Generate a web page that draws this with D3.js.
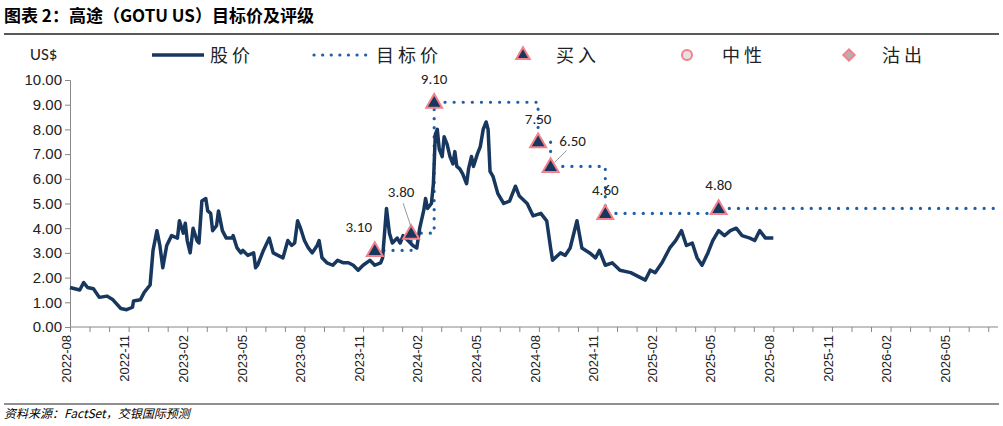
<!DOCTYPE html>
<html><head><meta charset="utf-8">
<script src="https://cdn.jsdelivr.net/npm/d3@7"></script>
<style>body{margin:0;background:#fff}svg{font-family:Calibri,"Liberation Sans","Noto Sans CJK SC",sans-serif}</style>
</head><body><div id="chart"></div>
<script>
// months since 2022-08-01
var priceMonths = [0,0.5,0.7,0.9,1.2,1.5,1.9,2.2,2.6,2.9,3.2,3.25,3.6,3.8,4.1,4.25,4.45,4.6,4.75,4.95,5.2,5.5,5.6,5.8,5.9,6.0,6.15,6.3,6.5,6.6,6.75,6.95,7.05,7.2,7.3,7.5,7.6,7.8,8.0,8.3,8.35,8.55,8.75,8.85,9.1,9.4,9.5,9.6,9.9,10.2,10.4,10.65,10.9,11.15,11.35,11.5,11.65,11.8,12.0,12.2,12.4,12.65,12.75,12.9,13.15,13.45,13.7,14.0,14.25,14.5,14.75,15.0,15.35,15.6,15.9,16.0,16.2,16.35,16.5,16.75,16.9,17.05,17.3,17.55,17.75,17.9,18.1,18.2,18.3,18.5,18.6,18.7,18.8,18.9,19.05,19.15,19.3,19.45,19.6,19.7,19.8,19.95,20.1,20.3,20.4,20.55,20.65,20.85,21.0,21.15,21.3,21.4,21.5,21.65,21.9,22.2,22.5,22.8,23.0,23.4,23.7,24.1,24.4,24.6,24.7,25.1,25.35,25.6,25.95,26.2,26.6,26.9,27.1,27.4,27.75,28.15,28.7,29.2,29.45,29.7,29.95,30.3,30.7,31.0,31.3,31.55,31.85,32.1,32.35,32.65,32.9,33.2,33.5,33.8,34.1,34.4,34.8,35.05,35.3,35.6,36.0];
var priceValues = [1.6,1.5,1.8,1.6,1.55,1.2,1.25,1.1,0.75,0.7,0.8,1.05,1.1,1.4,1.7,3.1,3.9,3.3,2.4,3.3,3.7,3.6,4.3,3.8,4.2,3.5,3.0,4.0,3.5,3.4,5.1,5.2,4.7,4.6,3.9,4.1,4.7,3.9,3.6,3.6,3.7,3.2,3.0,3.1,2.9,3.0,2.4,2.5,3.1,3.6,3.0,2.9,2.8,3.5,3.3,3.4,4.3,4.0,3.5,3.2,3.0,3.3,3.5,2.8,2.6,2.5,2.7,2.6,2.6,2.5,2.3,2.5,2.7,2.5,2.6,2.8,4.8,3.8,3.4,3.6,3.4,3.7,3.5,3.3,3.2,4.0,4.7,5.2,4.8,5.0,5.8,7.8,8.0,7.2,6.9,7.7,7.4,6.9,6.6,7.1,6.5,6.4,6.2,5.8,6.4,6.9,6.5,7.0,7.3,8.0,8.3,8.0,6.3,6.1,5.4,5.0,5.1,5.7,5.3,5.0,4.5,4.6,4.3,3.2,2.7,3.0,2.9,3.2,4.3,3.2,3.0,2.8,3.1,2.5,2.6,2.3,2.2,2.0,1.9,2.3,2.2,2.6,3.2,3.5,3.9,3.3,3.4,2.8,2.5,3.0,3.5,3.9,3.7,3.9,4.0,3.7,3.6,3.5,3.9,3.6,3.6];
var targetMonths = [15.6,17.46,18.64,23.96,24.6,27.4,33.2];
var targetValues = [3.1,3.8,9.1,7.5,6.5,4.6,4.8];
var targetEnd = 47.5;
var yTicks = [0,1,2,3,4,5,6,7,8,9,10];
var legendItems = ["股价","目标价","买入","中性","沽出"];

var W = 1003, H = 426, navy = "#17375e", blue = "#1f5fa8", pink = "#f4808a";
var svg = d3.select("#chart").append("svg").attr("width", W).attr("height", H);
var x = d3.scaleLinear().domain([0, 47.5]).range([70, 998]);
var y = d3.scaleLinear().domain([0, 10]).range([327, 80]);

svg.append("text").attr("x", 4).attr("y", 22).attr("font-size", 17).attr("font-weight", "bold")
  .attr("font-family", "Noto Sans CJK SC").text("图表 2：高途（GOTU US）目标价及评级");
svg.append("line").attr("x1", 4).attr("x2", 999).attr("y1", 34).attr("y2", 34).attr("stroke", "#222").attr("stroke-width", 1.5);
svg.append("line").attr("x1", 4).attr("x2", 999).attr("y1", 404).attr("y2", 404).attr("stroke", "#222").attr("stroke-width", 1.2);
svg.append("text").attr("x", 4).attr("y", 418).attr("font-size", 12).attr("font-style", "italic")
  .attr("font-family", "Noto Sans CJK SC").text("资料来源：FactSet，交银国际预测");

// y axis
var ya = svg.append("g").attr("transform", "translate(70,0)")
  .call(d3.axisLeft(y).tickValues(yTicks).tickFormat(d3.format(".2f")).tickSize(5));
ya.selectAll("text").attr("font-size", 15).attr("fill", "#222");
ya.selectAll("line,path").attr("stroke", "#888");
svg.append("text").attr("x", 30).attr("y", 60).attr("font-size", 17).attr("fill", "#222").text("US$");

// x axis
var months = d3.range(0, 48);
var xa = svg.append("g").attr("transform", "translate(0,327)")
  .call(d3.axisBottom(x).tickValues(months).tickSize(5).tickFormat(function (m) {
    return m % 3 === 0 ? d3.timeFormat("%Y-%m")(d3.timeMonth.offset(new Date(2022, 7, 1), m)) : "";
  }));
xa.selectAll("line,path").attr("stroke", "#888");
xa.select(".domain").attr("d", "M70,0H998");
xa.selectAll("text").attr("font-size", 13).attr("fill", "#222")
  .attr("transform", "rotate(-90)").attr("text-anchor", "end").attr("x", -8).attr("y", -4).attr("dy", "0.32em");

// target dotted step line
var tData = targetMonths.map(function (m, i) { return [m, targetValues[i]]; });
tData.push([targetEnd, targetValues[targetValues.length - 1]]);
svg.append("path").datum(tData)
  .attr("d", d3.line().x(function (d) { return x(d[0]); }).y(function (d) { return y(d[1]); }).curve(d3.curveStepAfter))
  .attr("fill", "none").attr("stroke", blue).attr("stroke-width", 3.2)
  .attr("stroke-dasharray", "0.1 9").attr("stroke-linecap", "round");

// price line
svg.append("path").datum(priceMonths.map(function (m, i) { return [m, priceValues[i]]; }))
  .attr("d", d3.line().x(function (d) { return x(d[0]); }).y(function (d) { return y(d[1]); }))
  .attr("fill", "none").attr("stroke", navy).attr("stroke-width", 3.5).attr("stroke-linejoin", "round");

var tri = d3.symbol().type(d3.symbolTriangle).size(110);
svg.selectAll(".mk").data(tData.slice(0, targetMonths.length)).enter().append("path")
  .attr("transform", function (d) { return "translate(" + x(d[0]) + "," + (y(d[1]) + 1) + ")"; })
  .attr("d", tri).attr("fill", navy).attr("stroke", pink).attr("stroke-width", 2);

// labels: dx, dy offsets
var labelOff = [[-16, -18], [-10, -36], [0, -18], [0, -18], [22, -20], [0, -18], [0, -18]];
svg.selectAll(".lb").data(tData.slice(0, targetMonths.length)).enter().append("text")
  .attr("x", function (d, i) { return x(d[0]) + labelOff[i][0]; })
  .attr("y", function (d, i) { return y(d[1]) + labelOff[i][1]; })
  .attr("text-anchor", "middle").attr("font-size", 15).attr("fill", "#222")
  .text(function (d) { return d[1].toFixed(2); });
[[1, -8, -30, 0, -6], [4, 16, -16, 4, -4]].forEach(function (l) {
  var d = tData[l[0]];
  svg.append("line").attr("x1", x(d[0]) + l[1]).attr("y1", y(d[1]) + l[2])
    .attr("x2", x(d[0]) + l[3]).attr("y2", y(d[1]) + l[4]).attr("stroke", "#999").attr("stroke-width", 1);
});

// legend
var lg = svg.append("g").attr("font-size", 18).attr("fill", "#222").attr("font-family", "Noto Sans CJK SC");
lg.append("line").attr("x1", 152).attr("x2", 204).attr("y1", 55).attr("y2", 55).attr("stroke", navy).attr("stroke-width", 3.5);
lg.append("line").attr("x1", 314).attr("x2", 366).attr("y1", 55).attr("y2", 55).attr("stroke", blue)
  .attr("stroke-width", 3.2).attr("stroke-dasharray", "0.1 8.5").attr("stroke-linecap", "round");
lg.append("path").attr("transform", "translate(523,55)").attr("d", d3.symbol().type(d3.symbolTriangle).size(80))
  .attr("fill", navy).attr("stroke", pink).attr("stroke-width", 2);
lg.append("circle").attr("cx", 687).attr("cy", 55).attr("r", 5).attr("fill", "#e8e0e2").attr("stroke", pink).attr("stroke-width", 2);
lg.append("path").attr("transform", "translate(849,55) rotate(45)").attr("d", "M-4,-4H4V4H-4Z")
  .attr("fill", "#b8b0b0").attr("stroke", pink).attr("stroke-width", 2);
[[210, 0], [376, 1], [556, 2], [722, 3], [882, 4]].forEach(function (p) {
  lg.append("text").attr("x", p[0]).attr("y", 62).attr("letter-spacing", 4).text(legendItems[p[1]]);
});
</script></body></html>
